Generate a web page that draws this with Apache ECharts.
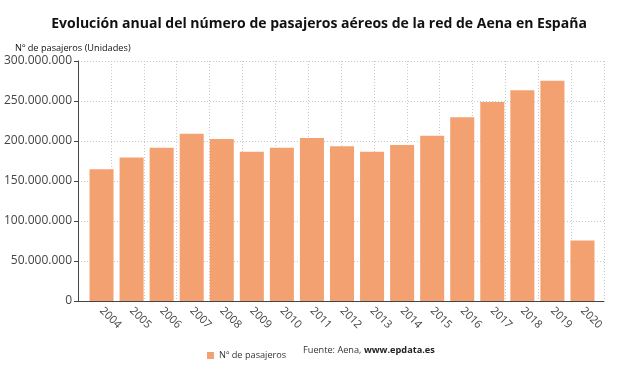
<!DOCTYPE html>
<html>
<head>
<meta charset="utf-8">
<script src="https://cdn.jsdelivr.net/npm/echarts@6/dist/echarts.min.js"></script>
<style>
  html, body { margin: 0; padding: 0; background: #fff; }
  #chart { width: 638px; height: 375px; }
</style>
</head>
<body>
<div id="chart"></div>
<script>
// años
const years = ['2004', '2005', '2006', '2007', '2008', '2009', '2010', '2011', '2012',
    '2013', '2014', '2015', '2016', '2017', '2018', '2019', '2020'];
// Nº de pasajeros
const pasajeros = [164600000, 179500000, 191500000, 209000000, 202500000, 186600000, 191600000,
    203800000, 193300000, 186600000, 195000000, 206600000, 229600000, 248800000, 263300000,
    275400000, 75500000];
const yTicks = [0, 50000000, 100000000, 150000000, 200000000, 250000000, 300000000];

const fmt = v => String(v).replace(/\B(?=(\d{3})+(?!\d))/g, '.');
const yMin = yTicks[0], yMax = yTicks[yTicks.length - 1], yStep = yTicks[1] - yTicks[0];

const myChart = echarts.init(document.getElementById('chart'));
const option = {
    textStyle: {fontFamily: 'Open Sans'},
    title: {
        text: 'Evolución anual del número de pasajeros aéreos de la red de Aena en España',
        left: 'center',
        top: 12,
        textStyle: {fontSize: 14, fontWeight: 'bold', color: '#111', fontFamily: 'Open Sans'}
    },
    // grid 0: marco, rejilla y eje Y; grid 1: barras con algo de margen lateral
    grid: [
        {left: 78, right: 34, top: 61, bottom: 74},
        {left: 86.5, right: 40.5, top: 61, bottom: 74}
    ],
    legend: {
        left: 202,
        top: 346,
        icon: 'rect',
        itemWidth: 7,
        itemHeight: 7,
        itemGap: 5,
        textStyle: {fontSize: 9.2, color: '#333'},
        data: ['Nº de pasajeros']
    },
    graphic: [
        {
            type: 'text',
            left: 15,
            top: 44,
            style: {text: 'Nº de pasajeros (Unidades)', fontSize: 9.2, fill: '#111', fontFamily: 'Open Sans'}
        },
        {
            type: 'text',
            left: 303,
            top: 346,
            style: {
                text: '{a|Fuente: Aena, }{b|www.epdata.es}',
                rich: {
                    a: {fontSize: 9.2, fill: '#333', fontFamily: 'Open Sans'},
                    b: {fontSize: 9.2, fill: '#222', fontWeight: 'bold', fontFamily: 'Open Sans'}
                }
            }
        }
    ],
    xAxis: [
        {
            gridIndex: 0,
            type: 'value',
            min: 0,
            max: 16,
            interval: 1,
            axisLine: {show: true, lineStyle: {color: '#444', width: 1}},
            axisTick: {show: false},
            axisLabel: {show: false},
            splitLine: {show: true, lineStyle: {color: '#c8c8c8', type: [1, 2]}}
        },
        {
            gridIndex: 1,
            type: 'category',
            data: years,
            axisLine: {show: false},
            axisTick: {alignWithLabel: true, length: 4, lineStyle: {color: '#444'}},
            axisLabel: {rotate: -45, fontSize: 11, color: '#444', margin: 8},
            splitLine: {show: false}
        }
    ],
    yAxis: [
        {
            gridIndex: 0,
            type: 'value',
            min: yMin,
            max: yMax,
            interval: yStep,
            axisLine: {show: true, lineStyle: {color: '#444', width: 1}},
            axisTick: {show: true, length: 4, lineStyle: {color: '#444'}},
            axisLabel: {fontSize: 12, color: '#444', margin: 6, formatter: fmt},
            splitLine: {show: true, lineStyle: {color: '#c8c8c8', type: [1, 2]}}
        },
        {
            gridIndex: 1,
            type: 'value',
            min: yMin,
            max: yMax,
            interval: yStep,
            show: false
        }
    ],
    series: [
        {
            name: 'Nº de pasajeros',
            type: 'bar',
            xAxisIndex: 1,
            yAxisIndex: 1,
            data: pasajeros,
            barCategoryGap: '20%',
            itemStyle: {color: '#f4a172'}
        }
    ]
};
myChart.setOption(option);
</script>
</body>
</html>
